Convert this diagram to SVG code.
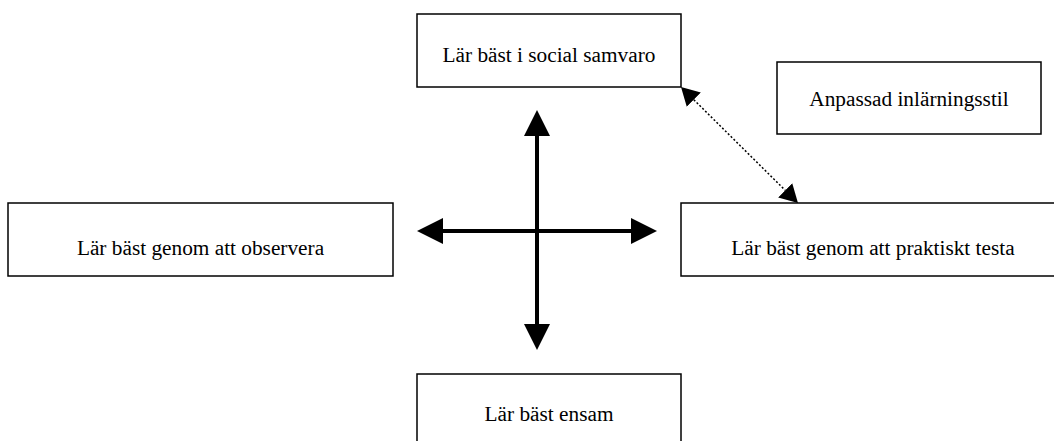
<svg xmlns="http://www.w3.org/2000/svg" width="1054" height="441" viewBox="0 0 1054 441">
  <style>
    .box { fill: #ffffff; stroke: #000000; stroke-width: 1.5; }
    .label { font-family: "Liberation Serif", "Times New Roman", serif; font-size: 21.3px; fill: #000000; text-anchor: middle; }
    .axis { stroke: #000000; stroke-width: 4; fill: none; }
    .link { stroke: #000000; stroke-width: 1.5; stroke-dasharray: 2 2; fill: none; }
  </style>
  <defs>
    <marker id="bigHead" viewBox="0 -13 26 26" refX="0" refY="0" markerWidth="26" markerHeight="26" markerUnits="userSpaceOnUse" orient="auto-start-reverse">
      <path d="M0,-13 L26,0 L0,13 z" fill="#000000"/>
    </marker>
    <marker id="smallHead" viewBox="0 -10 18 20" refX="0" refY="0" markerWidth="18" markerHeight="20" markerUnits="userSpaceOnUse" orient="auto-start-reverse">
      <path d="M0,-10 L18,0 L0,10 z" fill="#000000"/>
    </marker>
  </defs>

  <rect width="1054" height="441" fill="#ffffff"/>

  <g id="connectors">
    <line class="axis" x1="537" y1="136" x2="537" y2="324" marker-start="url(#bigHead)" marker-end="url(#bigHead)"/>
    <line class="axis" x1="443" y1="231" x2="631" y2="231" marker-start="url(#bigHead)" marker-end="url(#bigHead)"/>
    <line class="link" x1="693.8" y1="99.7" x2="785.2" y2="190.3" marker-start="url(#smallHead)" marker-end="url(#smallHead)"/>
  </g>

  <g id="social">
    <rect class="box" x="417" y="14" width="264" height="73"/>
    <text class="label" x="549" y="62">Lär bäst i social samvaro</text>
  </g>

  <g id="adapted">
    <rect class="box" x="777" y="62" width="264" height="72"/>
    <text class="label" x="909" y="106">Anpassad inlärningsstil</text>
  </g>

  <g id="observe">
    <rect class="box" x="8" y="203" width="385" height="73"/>
    <text class="label" x="200.5" y="255">Lär bäst genom att observera</text>
  </g>

  <g id="practice">
    <rect class="box" x="681" y="203" width="385" height="73"/>
    <text class="label" x="873" y="255">Lär bäst genom att praktiskt testa</text>
  </g>

  <g id="alone">
    <rect class="box" x="417" y="374" width="264" height="80"/>
    <text class="label" x="549" y="421">Lär bäst ensam</text>
  </g>
</svg>
